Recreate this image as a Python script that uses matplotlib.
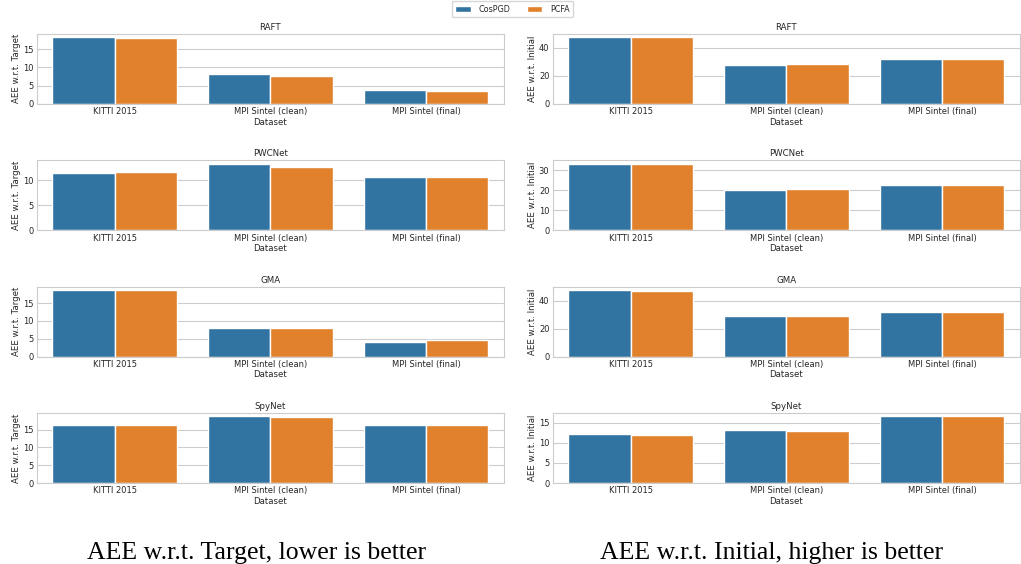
"""
AEE of CosPGD vs PCFA attacks on optical flow models, w.r.t. target and initial flow.
"""

import numpy as np
import matplotlib
matplotlib.use('Agg')
import matplotlib.pyplot as plt
import seaborn as sns

datasets = ['KITTI 2015', 'MPI Sintel (clean)', 'MPI Sintel (final)']
models = ['RAFT', 'PWCNet', 'GMA', 'SpyNet']
methods = ['CosPGD', 'PCFA']

# AEE w.r.t. target (lower is better), per model: values over datasets
target_cospgd = {'RAFT': [18.3, 8.15, 3.65],
                 'PWCNet': [11.6, 13.4, 10.7],
                 'GMA': [18.6, 8.1, 4.1],
                 'SpyNet': [16.3, 18.7, 16.35]}
target_pcfa = {'RAFT': [18.0, 7.5, 3.4],
               'PWCNet': [11.65, 12.8, 10.75],
               'GMA': [18.7, 8.1, 4.6],
               'SpyNet': [16.4, 18.6, 16.3]}

# AEE w.r.t. initial (higher is better)
initial_cospgd = {'RAFT': [47.6, 27.8, 32.2],
                  'PWCNet': [33.4, 20.3, 22.8],
                  'GMA': [47.5, 29.3, 32.0],
                  'SpyNet': [12.2, 13.2, 16.6]}
initial_pcfa = {'RAFT': [47.6, 28.6, 32.2],
                'PWCNet': [33.4, 20.8, 22.8],
                'GMA': [47.0, 29.3, 31.5],
                'SpyNet': [11.9, 13.1, 16.6]}

colors = ['#3274a1', '#e1812c']


def make_barplot(ax, vals_a, vals_b, title, ylabel):
    x = np.arange(len(datasets))
    width = 0.4
    ax.bar(x - width/2, vals_a, width, color=colors[0], edgecolor='white',
           linewidth=1.0, label=methods[0])
    ax.bar(x + width/2, vals_b, width, color=colors[1], edgecolor='white',
           linewidth=1.0, label=methods[1])
    ax.set_xticks(x, datasets)
    ax.set_xlim(-0.5, len(datasets) - 0.5)
    ax.set_title(title, fontsize=6.2, pad=3)
    ax.set_ylabel(ylabel, fontsize=6.2, labelpad=1.5)
    ax.set_xlabel('Dataset', fontsize=6.2, labelpad=1)
    ax.tick_params(labelsize=6, length=0, pad=2.5)
    ax.grid(axis='x', visible=False)
    ax.set_axisbelow(True)


sns.set_style('whitegrid')
fig, axs = plt.subplots(4, 2, figsize=(10.21, 5.64), dpi=100)
fig.subplots_adjust(left=0.036, right=0.999, top=0.94, bottom=0.1436,
                    wspace=0.105, hspace=0.81)

for i, m in enumerate(models):
    make_barplot(axs[i, 0], target_cospgd[m], target_pcfa[m], m, 'AEE w.r.t. Target')
    make_barplot(axs[i, 1], initial_cospgd[m], initial_pcfa[m], m, 'AEE w.r.t. Initial')

handles, labels = axs[0, 0].get_legend_handles_labels()
fig.legend(handles, labels, loc='upper center', bbox_to_anchor=(0.502, 1.0),
           ncols=2, fontsize=5.8, frameon=True, handlelength=1.9,
           handletextpad=1.0, columnspacing=2.0, borderpad=0.45,
           borderaxespad=0.15)

serif = ['Liberation Serif', 'DejaVu Serif']
fig.text(0.251, 0.008, 'AEE w.r.t. Target, lower is better', ha='center',
         va='baseline', fontsize=18.5, family=serif, color='black')
fig.text(0.7556, 0.008, 'AEE w.r.t. Initial, higher is better', ha='center',
         va='baseline', fontsize=18.5, family=serif, color='black')

fig.savefig('out.png', dpi=100)
